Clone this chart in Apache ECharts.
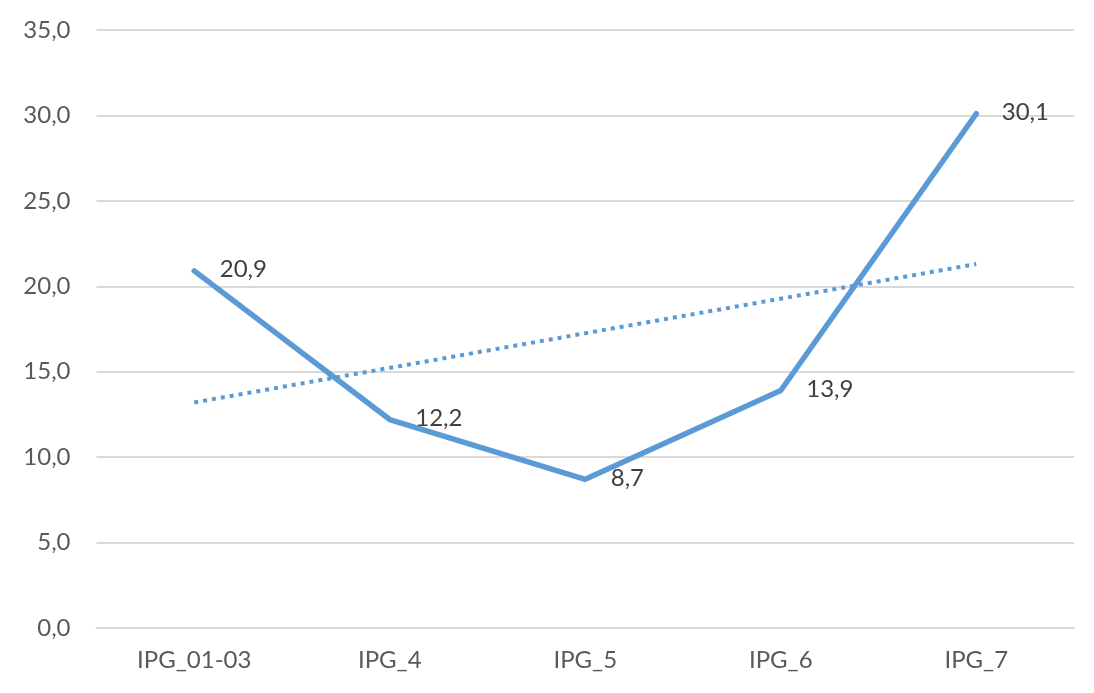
<!DOCTYPE html>
<html>
<head>
<meta charset="utf-8">
<title>IPG</title>
<script src="https://cdn.jsdelivr.net/npm/echarts@6/dist/echarts.min.js"></script>
<style>
  html, body { margin: 0; padding: 0; background: #ffffff; }
  #chart { width: 1094px; height: 693px; }
</style>
</head>
<body>
<div id="chart"></div>
<script>
// Categories and values
const categories = ['IPG_01-03', 'IPG_4', 'IPG_5', 'IPG_6', 'IPG_7'];
const values = [20.9, 12.2, 8.7, 13.9, 30.1];
// Linear trend line: value at the first and last category
const trendStart = 13.2;
const trendEnd = 21.3;
// Value axis range
const yMin = 0;
const yMax = 35;
const yStep = 5;

const trendData = categories.map((c, i) =>
  i === 0 ? trendStart : (i === categories.length - 1 ? trendEnd : null));

const fmt = v => Number(v).toFixed(1).replace('.', ',');
const FONT = 'Lato, "Open Sans", sans-serif';
const BLUE = '#5b9bd5';

const chart = echarts.init(document.getElementById('chart'), null, { renderer: 'canvas' });
chart.setOption({
  animation: false,
  backgroundColor: '#ffffff',
  grid: { left: 96.5, right: 20, top: 30, bottom: 65, containLabel: false },
  xAxis: {
    type: 'category',
    data: categories,
    boundaryGap: true,
    axisLine: { show: true, lineStyle: { color: '#d9d9d9', width: 2 } },
    axisTick: { show: false },
    axisLabel: { color: '#595959', fontFamily: FONT, fontSize: 24, margin: 20 }
  },
  yAxis: {
    type: 'value',
    min: yMin,
    max: yMax,
    interval: yStep,
    axisLine: { show: false },
    axisTick: { show: false },
    splitLine: { show: true, lineStyle: { color: '#d9d9d9', width: 2 } },
    axisLabel: { color: '#595959', fontFamily: FONT, fontSize: 24, margin: 26, formatter: fmt }
  },
  series: [
    {
      name: 'Trend',
      type: 'line',
      data: trendData,
      connectNulls: true,
      symbol: 'none',
      z: 2,
      lineStyle: { color: BLUE, width: 4, type: [4, 5], cap: 'butt' }
    },
    {
      name: 'IPG',
      type: 'line',
      data: values,
      z: 3,
      symbol: 'circle',
      symbolSize: 1,
      showSymbol: true,
      itemStyle: { color: 'rgba(0,0,0,0)', borderWidth: 0 },
      lineStyle: { color: BLUE, width: 5.5, cap: 'round', join: 'round' },
      label: {
        show: true,
        position: 'right',
        distance: 25,
        offset: [0, -1.5],
        color: '#404040',
        fontFamily: FONT,
        fontSize: 24,
        formatter: p => fmt(p.value)
      }
    }
  ]
});
</script>
</body>
</html>
